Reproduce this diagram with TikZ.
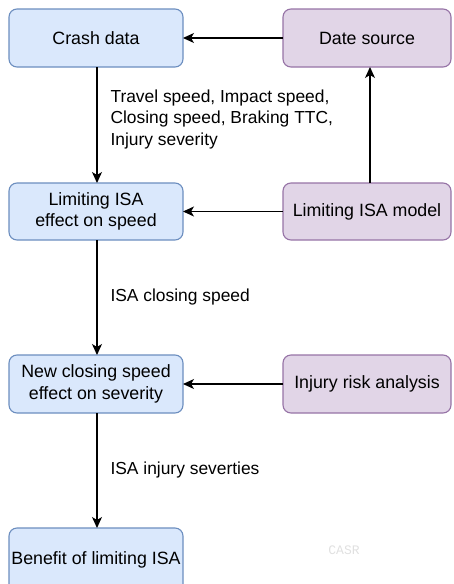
\documentclass[tikz,border=0pt]{standalone}
\usepackage{fontspec}
\setmainfont{Liberation Sans}
\setmonofont{Liberation Mono}
\usetikzlibrary{arrows.meta}
\definecolor{bluefill}{HTML}{DAE8FC}
\definecolor{bluedraw}{HTML}{6C8EBF}
\definecolor{purplefill}{HTML}{E1D5E7}
\definecolor{purpledraw}{HTML}{9673A6}
\tikzset{
  bluebox/.style={draw=bluedraw, fill=bluefill, rounded corners=8pt, line width=1.1pt},
  purplebox/.style={draw=purpledraw, fill=purplefill, rounded corners=8pt, line width=1.1pt},
  boxtext/.style={font=\fontsize{17.8}{21.5}\selectfont, align=center, text=black},
  edgelabel/.style={font=\fontsize{17.4}{21.5}\selectfont, align=left, anchor=west, text=black},
  flow/.style={line width=1.2pt, -{Stealth[length=11pt,width=10pt,inset=3pt]}}
}
\begin{document}
\begin{tikzpicture}[x=1pt,y=-1pt]
\useasboundingbox (0,0) rectangle (453,584);
\clip (0,0) rectangle (453,584);
% boxes
\draw[bluebox] (9,9) rectangle (183,67);
\node[boxtext] (crash) at (96,38) {Crash data};
\draw[purplebox] (283,9) rectangle (451,67);
\node[boxtext] (source) at (367,38) {Date source};
\draw[bluebox] (9,183) rectangle (183,240);
\node[boxtext] (limit) at (96,211.5) {Limiting ISA\\effect on speed};
\draw[purplebox] (283,183) rectangle (451,240);
\node[boxtext] (model) at (367,211.5) {Limiting ISA model};
\draw[bluebox] (9,528) rectangle (183,595);
\node[boxtext] (benefit) at (96,560) {Benefit of limiting ISA};
\draw[bluebox] (9,355) rectangle (183,413);
\node[boxtext] (newcs) at (96,384) {New closing speed\\effect on severity};
\draw[purplebox] (283,355) rectangle (451,413);
\node[boxtext] (injury) at (367,384) {Injury risk analysis};
% anchor coordinates on box borders
\coordinate (crashB) at (97,67);
\coordinate (crashR) at (183,38);
\coordinate (sourceL) at (283,38);
\coordinate (sourceB) at (370,67);
\coordinate (limitT) at (97,183);
\coordinate (limitB) at (97,240);
\coordinate (limitR) at (183,211.5);
\coordinate (modelL) at (283,211.5);
\coordinate (modelT) at (370,183);
\coordinate (newT) at (97,355);
\coordinate (newB) at (97,413);
\coordinate (newR) at (183,384);
\coordinate (injL) at (283,384);
\coordinate (benT) at (97,528);
% connectors
\draw[flow] (sourceL) -- (crashR);
\draw[flow] (crashB) -- (limitT);
\draw[flow] (modelT) -- (sourceB);
\draw[flow] (modelL) -- (limitR);
\draw[flow] (limitB) -- (newT);
\draw[flow] (injL) -- (newR);
\draw[flow] (newB) -- (benT);
% labels
\node[edgelabel] (l1) at (107,119) {Travel speed, Impact speed,\\Closing speed, Braking TTC,\\Injury severity};
\node[edgelabel] (l2) at (107,297) {ISA closing speed};
\node[edgelabel] (l3) at (107,470) {ISA injury severties};
\node[font=\ttfamily\fontsize{13}{15}\selectfont, text=black!12] (wm) at (344,550) {CASR};
\end{tikzpicture}
\end{document}
